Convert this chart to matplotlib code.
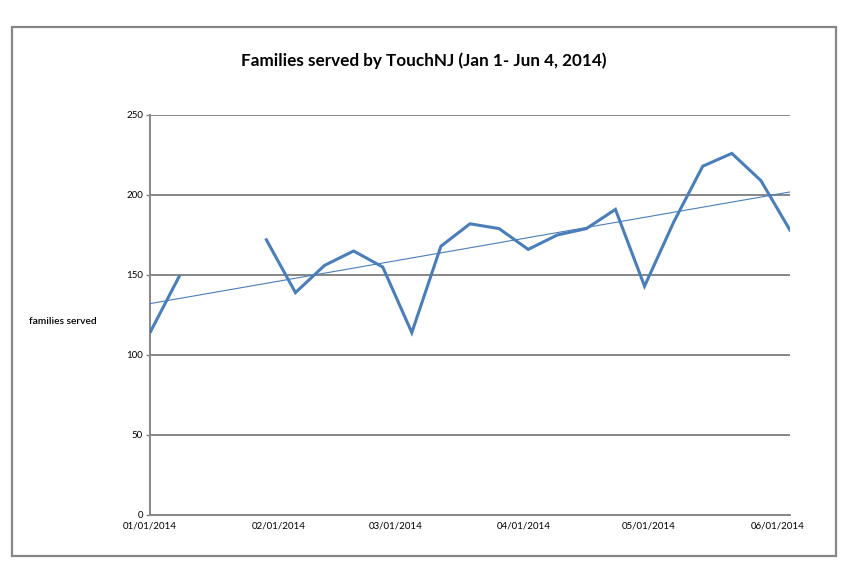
import numpy as np
import matplotlib
matplotlib.use("Agg")
import matplotlib.pyplot as plt
import matplotlib.dates as mdates
from matplotlib.patches import Rectangle

# weekly counts, Jan 1 - Jun 4 2014 (nan = no data)
fechas = np.arange(np.datetime64("2014-01-01"), np.datetime64("2014-06-05"), np.timedelta64(7, "D"))
familias = [114, 149, np.nan, np.nan, 172, 139, 156, 165, 155, 114, 168, 182,
            179, 166, 175, 179, 191, 143, 183, 218, 226, 209, 178]
meses = ["2014-01-01", "2014-02-01", "2014-03-01", "2014-04-01", "2014-05-01", "2014-06-01"]

AZUL = "#4a7ebb"
GRIS = "#868686"

plt.rcParams["font.family"] = ["Lato", "DejaVu Sans"]

fig = plt.figure(figsize=(8.63, 5.87), dpi=100)
ax = fig.add_axes([150 / 863, 1 - 515 / 587, 640 / 863, 400 / 587])

x = mdates.date2num(fechas.astype("datetime64[D]").astype(object))
y = np.array(familias, dtype=float)

ax.plot(x, y, color=AZUL, lw=2.2, solid_joinstyle="miter", zorder=3)

# linear trendline
ok = ~np.isnan(y)
m, b = np.polyfit(x[ok], y[ok], 1)
x0 = mdates.date2num(np.datetime64("2014-01-01").astype(object))
x1 = mdates.date2num(np.datetime64("2014-06-04").astype(object))
xt = np.array([x0, x1])
ax.plot(xt, m * xt + b, color=AZUL, lw=0.8, zorder=3)

ax.set_xlim(x0, x1)
ax.set_ylim(0, 250)
ax.set_yticks(range(0, 251, 50))
ax.set_xticks([mdates.date2num(np.datetime64(d).astype(object)) for d in meses])
ax.xaxis.set_major_formatter(mdates.DateFormatter("%m/%d/%Y"))

ax.grid(axis="y", color=GRIS, lw=1.4)
ax.set_axisbelow(True)
for lado in ["top", "right"]:
    ax.spines[lado].set_visible(False)
for lado in ["left", "bottom"]:
    ax.spines[lado].set_color(GRIS)
    ax.spines[lado].set_linewidth(1.4)
ax.tick_params(axis="y", length=3, width=1, color=GRIS, labelsize=7, pad=2)
ax.tick_params(axis="x", length=0, labelsize=7, pad=5)

fig.text(424 / 863, 1 - 61 / 587, "Families served by TouchNJ (Jan 1- Jun 4, 2014)",
         ha="center", va="center", fontsize=12.3, fontweight="bold")
fig.text(29 / 863, 1 - 321 / 587, "families served", ha="left", va="center",
         fontsize=7.4, fontweight="semibold")

# chart area border
fig.add_artist(Rectangle((12 / 863, 1 - 556 / 587), 824 / 863, 529 / 587,
                         transform=fig.transFigure, fill=False, ec=GRIS, lw=1.6))

fig.savefig("out.png", dpi=100)
